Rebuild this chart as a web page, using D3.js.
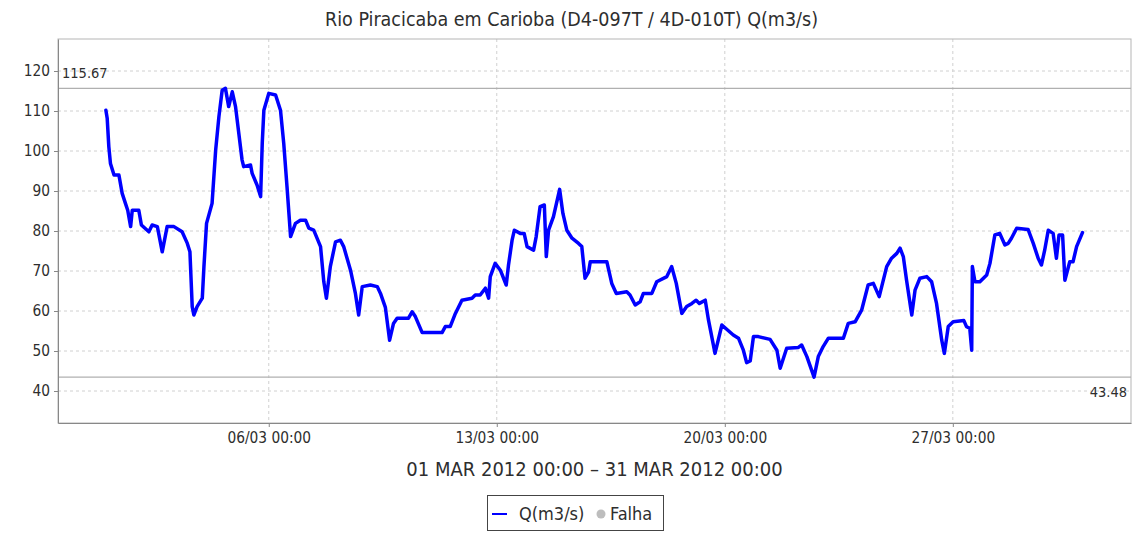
<!DOCTYPE html>
<html>
<head>
<meta charset="utf-8">
<script src="https://cdn.jsdelivr.net/npm/d3@7"></script>
<style>
  html, body { margin: 0; padding: 0; background: #fff; }
  svg text { font-family: "DejaVu Sans Condensed", "DejaVu Sans", sans-serif; font-stretch: condensed; fill: #2e2e2e; }
</style>
</head>
<body>
<svg id="chart" width="1143" height="533"></svg>
<script>
// Flow at Carioba, March 2012 — time as days after 01/03 00:00, flow in m3/s
const dayOffset = [
  0.00, 0.04, 0.09, 0.14, 0.25, 0.40, 0.50, 0.60, 0.67, 0.76, 0.81, 1.01, 1.09, 1.32, 1.42, 1.58,
  1.73, 1.88, 2.09, 2.34, 2.50, 2.58, 2.65, 2.70, 2.80, 2.96, 3.01, 3.09, 3.26, 3.37, 3.47, 3.57,
  3.67, 3.77, 3.88, 3.98, 4.18, 4.23, 4.44, 4.49, 4.64, 4.75, 4.80, 4.85, 5.00, 5.21, 5.36, 5.46,
  5.56, 5.67, 5.82, 5.97, 6.13, 6.23, 6.38, 6.59, 6.69, 6.77, 6.89, 7.05, 7.20, 7.30, 7.51, 7.66,
  7.76, 7.87, 8.12, 8.33, 8.43, 8.58, 8.71, 8.83, 8.94, 9.29, 9.40, 9.50, 9.71, 9.86, 10.32, 10.42,
  10.57, 10.73, 10.93, 11.24, 11.34, 11.49, 11.65, 11.75, 11.80, 11.95, 12.11, 12.29, 12.36, 12.47, 12.54, 12.72,
  12.84, 12.93, 13.13, 13.21, 13.33, 13.46, 13.52, 13.59, 13.74, 13.93, 14.03, 14.15, 14.31, 14.51, 14.61, 14.71,
  14.82, 14.87, 15.38, 15.53, 15.67, 15.99, 16.09, 16.25, 16.40, 16.50, 16.76, 16.91, 17.22, 17.37, 17.51, 17.68,
  17.83, 17.99, 18.12, 18.22, 18.40, 18.50, 18.70, 18.91, 19.26, 19.42, 19.57, 19.67, 19.78, 19.88, 20.03, 20.39,
  20.60, 20.70, 20.90, 21.26, 21.36, 21.52, 21.74, 21.87, 22.02, 22.18, 22.64, 22.79, 23.00, 23.20, 23.40, 23.56,
  23.74, 23.97, 24.12, 24.28, 24.38, 24.48, 24.58, 24.74, 24.84, 24.99, 25.20, 25.35, 25.50, 25.66, 25.74, 25.86,
  26.01, 26.34, 26.42, 26.52, 26.58, 26.60, 26.68, 26.83, 27.04, 27.14, 27.29, 27.44, 27.60, 27.70, 27.80, 27.96,
  28.31, 28.47, 28.62, 28.72, 28.82, 28.93, 29.08, 29.18, 29.26, 29.37, 29.44, 29.59, 29.69, 29.80, 29.98
];
const flow = [
  110.2, 108.2, 101.1, 96.9, 94.0, 94.0, 89.4, 86.9, 85.2, 81.1, 85.2, 85.2, 81.5, 79.8, 81.5, 81.1,
  74.8, 81.1, 81.1, 79.8, 76.9, 74.8, 61.1, 59.0, 61.1, 63.2, 71.1, 81.9, 86.9, 100.2, 108.6, 115.2,
  115.67, 111.1, 114.8, 111.1, 97.8, 96.1, 96.5, 94.4, 91.5, 88.6, 101.9, 110.2, 114.4, 114.0, 110.2, 101.9,
  91.1, 78.6, 81.9, 82.7, 82.7, 80.7, 80.2, 76.1, 67.3, 63.2, 71.1, 77.3, 77.7, 76.1, 70.2, 64.4,
  59.0, 66.1, 66.5, 66.1, 64.4, 60.9, 52.7, 56.9, 58.2, 58.2, 59.8, 58.6, 54.6, 54.6, 54.6, 56.1,
  56.1, 59.4, 62.7, 63.2, 64.0, 64.0, 65.7, 63.2, 68.6, 71.9, 70.2, 66.5, 71.5, 77.7, 80.2, 79.4,
  79.4, 76.1, 75.2, 78.6, 86.1, 86.5, 73.6, 80.2, 83.6, 90.4, 84.4, 80.2, 78.2, 76.9, 76.1, 68.2,
  69.8, 72.3, 72.3, 66.9, 64.4, 64.8, 64.0, 61.5, 62.3, 64.4, 64.4, 67.3, 68.6, 71.1, 66.9, 59.4,
  61.1, 61.9, 62.7, 61.9, 62.7, 57.7, 49.4, 56.5, 54.0, 53.2, 50.2, 47.1, 47.5, 53.6, 53.6, 52.9,
  50.2, 45.7, 50.7, 50.9, 51.5, 48.6, 43.48, 48.6, 51.1, 53.2, 53.2, 56.9, 57.3, 60.2, 66.5, 66.9,
  63.6, 71.1, 73.2, 74.4, 75.7, 73.6, 67.7, 59.0, 65.2, 68.2, 68.6, 67.3, 61.9, 52.7, 49.4, 56.1,
  57.3, 57.6, 56.1, 55.7, 50.2, 71.1, 67.3, 67.3, 69.0, 71.9, 79.0, 79.4, 76.5, 76.9, 78.2, 80.7,
  80.4, 76.9, 73.2, 71.5, 75.2, 80.2, 79.4, 73.2, 79.0, 79.0, 67.7, 72.3, 72.3, 76.1, 79.6
];
const yTickValues = [40, 50, 60, 70, 80, 90, 100, 110, 120];
const xTickDays = ["2012-03-06", "2012-03-13", "2012-03-20", "2012-03-27"];
const titleText = "Rio Piracicaba em Carioba (D4-097T / 4D-010T) Q(m3/s)";
const periodText = "01 MAR 2012 00:00 \u2013 31 MAR 2012 00:00";
const seriesName = "Q(m3/s)";
const gapName = "Falha";

const DAY = 864e5;
const periodStart = Date.UTC(2012, 2, 1);
const periodEnd = Date.UTC(2012, 2, 31);
const pad = 1.47 * DAY;

const svg = d3.select("#chart");
const plot = { left: 58, right: 1131, top: 39, bottom: 423 };

const data = dayOffset.map((d, i) => ({ t: new Date(periodStart + d * DAY), v: flow[i] }));

const x = d3.scaleUtc()
  .domain([new Date(periodStart - pad), new Date(periodEnd + pad)])
  .range([plot.left, plot.right]);
const y = d3.scaleLinear().domain([32, 128]).range([plot.bottom, plot.top]);

// title
svg.append("text").attr("x", 571.5).attr("y", 26).attr("text-anchor", "middle")
  .style("font-size", "19.5px").text(titleText);

// gridlines
const grid = svg.append("g");
grid.selectAll("line.h").data(yTickValues).join("line")
  .attr("x1", plot.left).attr("x2", plot.right)
  .attr("y1", d => y(d)).attr("y2", d => y(d))
  .attr("stroke", "#d0d0d0").attr("stroke-dasharray", "3,3");
const xTicks = xTickDays.map(s => new Date(s + "T00:00:00Z"));
grid.selectAll("line.v").data(xTicks).join("line")
  .attr("x1", d => x(d)).attr("x2", d => x(d))
  .attr("y1", plot.top).attr("y2", plot.bottom)
  .attr("stroke", "#d0d0d0").attr("stroke-dasharray", "3,3");

// plot frame
svg.append("rect").attr("x", plot.left).attr("y", plot.top)
  .attr("width", plot.right - plot.left).attr("height", plot.bottom - plot.top)
  .attr("fill", "none").attr("stroke", "#b5b5b5");

// max / min markers
const maxV = d3.max(flow), minV = d3.min(flow);
const markers = svg.append("g");
[maxV, minV].forEach(v => {
  markers.append("line").attr("x1", plot.left).attr("x2", plot.right)
    .attr("y1", y(v)).attr("y2", y(v)).attr("stroke", "#b0b0b0").attr("stroke-width", 1.3);
});
markers.append("text").attr("x", plot.left + 4).attr("y", y(maxV) - 10)
  .style("font-size", "14.5px").text(maxV.toFixed(2));
markers.append("text").attr("x", plot.right - 4).attr("y", y(minV) + 20)
  .attr("text-anchor", "end").style("font-size", "14.5px").text(minV.toFixed(2));

// series
const line = d3.line().x(d => x(d.t)).y(d => y(d.v));
svg.append("path").datum(data).attr("d", line)
  .attr("fill", "none").attr("stroke", "#0000ff").attr("stroke-width", 3.5)
  .attr("stroke-linejoin", "round").attr("stroke-linecap", "round");

// axes
const yAxis = svg.append("g").attr("transform", `translate(${plot.left},0)`)
  .call(d3.axisLeft(y).tickValues(yTickValues).tickSize(4).tickSizeOuter(0).tickPadding(4));
const xAxis = svg.append("g").attr("transform", `translate(0,${plot.bottom})`)
  .call(d3.axisBottom(x).tickValues(xTicks).tickFormat(d3.utcFormat("%d/%m %H:%M"))
    .tickSize(4).tickSizeOuter(0).tickPadding(5));
[yAxis, xAxis].forEach(a => {
  a.select(".domain").attr("stroke", "#888");
  a.selectAll(".tick line").attr("stroke", "#888");
  a.selectAll(".tick text").attr("fill", "#2e2e2e")
    .style("font-family", '"DejaVu Sans Condensed", "DejaVu Sans", sans-serif').style("font-size", "15.3px");
});

// period label
svg.append("text").attr("x", (plot.left + plot.right) / 2).attr("y", 476)
  .attr("text-anchor", "middle").style("font-size", "20px").text(periodText);

// legend
const lg = svg.append("g");
lg.append("rect").attr("x", 487.5).attr("y", 495.5).attr("width", 176).attr("height", 35)
  .attr("fill", "#fff").attr("stroke", "#444");
lg.append("line").attr("x1", 492).attr("x2", 507).attr("y1", 514).attr("y2", 514)
  .attr("stroke", "#0000ff").attr("stroke-width", 2);
lg.append("text").attr("x", 519).attr("y", 520).style("font-size", "18px").text(seriesName);
lg.append("circle").attr("cx", 601).attr("cy", 514).attr("r", 4.5).attr("fill", "#bdbdbd");
lg.append("text").attr("x", 610).attr("y", 520).style("font-size", "18px").text(gapName);
</script>
</body>
</html>
